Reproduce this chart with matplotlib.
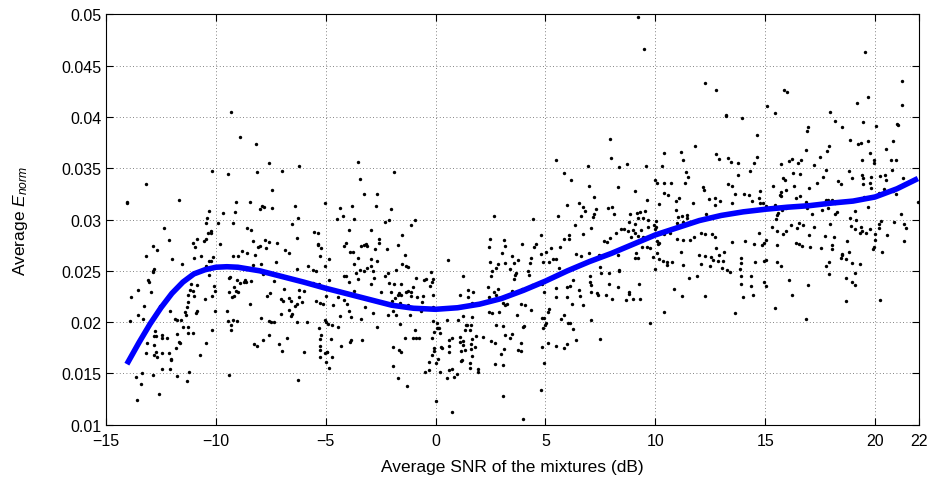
import numpy as np
import matplotlib.pyplot as plt

plt.rcParams['font.family'] = ['Liberation Sans', 'DejaVu Sans']
plt.rcParams['mathtext.fontset'] = 'custom'
plt.rcParams['mathtext.rm'] = 'Liberation Sans'
plt.rcParams['mathtext.it'] = 'Liberation Sans:italic'

# (SNR dB, average E_norm), grouped by region
upper_pts = [
    (-9.32, 0.04045), (-8.91, 0.03808), (-8.19, 0.03733),
    (9.19, 0.0497), (9.48, 0.04665), (7.92, 0.03785), (12.27, 0.04334), (12.76, 0.04266),
    (13.21, 0.04019), (13.20, 0.04006), (13.96, 0.03986), (14.64, 0.03827), (10.38, 0.03652),
    (11.16, 0.03658), (11.82, 0.03717), (12.77, 0.03639), (15.07, 0.04110), (15.44, 0.04035),
    (15.84, 0.04259), (15.99, 0.04246), (17.96, 0.04045), (18.16, 0.03960), (16.93, 0.03905),
    (16.90, 0.03866), (18.49, 0.03899), (19.18, 0.04139), (19.69, 0.04198), (19.56, 0.04630),
    (19.47, 0.03947), (20.06, 0.03912), (21.23, 0.04350), (21.24, 0.04120), (21.00, 0.03931),
    (21.03, 0.03918), (18.87, 0.03772), (19.22, 0.03733), (19.37, 0.03749), (19.66, 0.03769),
    (20.83, 0.03769), (20.48, 0.03684), (19.79, 0.03645), (16.86, 0.03675), (17.89, 0.03717),
    (17.83, 0.03668),
]

left_pts = [
    (-10.18, 0.03477), (-9.47, 0.03444), (-8.15, 0.03460), (-7.56, 0.03555), (-7.00, 0.03477),
    (-13.17, 0.03347), (-14.04, 0.03174), (-14.04, 0.03158), (-11.67, 0.03187), (-9.09, 0.03168),
    (-8.45, 0.03174), (-7.88, 0.03132), (-7.83, 0.03126), (-8.00, 0.03103), (-7.44, 0.03288),
    (-7.44, 0.03109), (-10.29, 0.03087), (-10.40, 0.03015), (-9.67, 0.03061), (-9.15, 0.03070),
    (-9.21, 0.02967), (-10.43, 0.02970), (-9.90, 0.02963), (-8.60, 0.02921), (-8.39, 0.02898),
    (-12.34, 0.02915), (-10.24, 0.02889), (-10.34, 0.02866), (-10.21, 0.02869), (-12.14, 0.02804),
    (-10.87, 0.02814), (-10.43, 0.02807), (-10.55, 0.02788), (-11.05, 0.02768), (-10.94, 0.02733),
    (-9.79, 0.02762), (-12.88, 0.02746), (-12.66, 0.02700), (-8.33, 0.02791), (-8.06, 0.02729),
    (-8.01, 0.02742), (-7.77, 0.02801), (-7.60, 0.02781), (-7.21, 0.02775), (-7.72, 0.02723),
    (-6.87, 0.02703), (-13.20, 0.02648), (-12.00, 0.02619), (-11.55, 0.02564), (-11.00, 0.02622),
    (-10.68, 0.02645), (-10.29, 0.02599), (-10.21, 0.02599), (-10.11, 0.02638), (-10.43, 0.02547),
    (-9.24, 0.02648), (-8.98, 0.02645), (-8.83, 0.02690), (-8.56, 0.02674), (-8.21, 0.02658),
    (-8.30, 0.02557), (-7.95, 0.02564), (-7.28, 0.02583), (-12.82, 0.02518), (-12.85, 0.02502),
    (-12.88, 0.02489), (-13.10, 0.02411), (-13.02, 0.02388), (-10.93, 0.02482), (-10.85, 0.02359),
    (-11.14, 0.02375), (-11.69, 0.02365), (-13.55, 0.02313), (-12.96, 0.02294), (-10.32, 0.02456),
    (-10.08, 0.02352), (-9.35, 0.02440), (-9.39, 0.02427), (-9.06, 0.02411), (-8.88, 0.02385),
    (-8.67, 0.02414), (-8.61, 0.02388), (-8.71, 0.02391), (-9.18, 0.02346), (-8.39, 0.02404),
    (-7.86, 0.02466), (-7.37, 0.02404), (-11.17, 0.02313), (-11.05, 0.02303), (-9.39, 0.02297),
    (-9.09, 0.02303), (-8.97, 0.02291), (-10.06, 0.02307), (-7.53, 0.02281), (-6.89, 0.02323),
    (-13.84, 0.02248), (-13.25, 0.02160), (-13.54, 0.02066), (-13.90, 0.02011), (-13.32, 0.02030),
    (-12.53, 0.02160), (-12.08, 0.02108), (-11.25, 0.02264), (-11.00, 0.02258), (-11.29, 0.02199),
    (-11.32, 0.02150), (-11.40, 0.02101), (-11.38, 0.02072), (-10.88, 0.02105), (-10.90, 0.02089),
    (-10.49, 0.02225), (-10.17, 0.02251), (-10.05, 0.02111), (-11.88, 0.02027), (-11.75, 0.02024),
    (-11.58, 0.02024), (-11.49, 0.01952), (-11.25, 0.01956), (-11.25, 0.01894), (-11.05, 0.01894),
    (-10.17, 0.01923), (-12.75, 0.01913), (-12.81, 0.01865), (-12.72, 0.01861), (-12.43, 0.01874),
    (-12.43, 0.01842), (-12.22, 0.01848), (-11.75, 0.01881), (-11.67, 0.01809), (-11.62, 0.01793),
    (-11.81, 0.01744), (-10.44, 0.01793), (-13.14, 0.01800), (-12.81, 0.01777), (-13.19, 0.01702),
    (-12.81, 0.01683), (-12.72, 0.01705), (-12.66, 0.01663), (-12.44, 0.01702), (-12.13, 0.01702),
    (-12.05, 0.01644), (-12.03, 0.01634), (-10.70, 0.01679), (-12.44, 0.01543), (-12.10, 0.01540),
    (-12.84, 0.01484), (-13.35, 0.01501), (-13.63, 0.01462), (-11.23, 0.01510), (-11.76, 0.01471),
    (-11.31, 0.01426), (-13.40, 0.01400), (-12.60, 0.01296), (-13.61, 0.01240),
    (-9.19, 0.02258), (-9.26, 0.02248), (-8.45, 0.02173), (-9.50, 0.02111), (-9.44, 0.02011),
    (-9.21, 0.02024), (-9.03, 0.02008), (-9.33, 0.01975), (-9.33, 0.01923), (-7.66, 0.02254),
    (-7.03, 0.02225), (-6.94, 0.02206), (-7.04, 0.02079), (-7.94, 0.02040), (-7.57, 0.02014),
    (-7.48, 0.02001), (-7.36, 0.02004), (-7.56, 0.01871), (-7.86, 0.01829), (-8.26, 0.01783),
    (-8.12, 0.01767), (-7.13, 0.01786), (-7.00, 0.01718), (-9.39, 0.01481),
]

mid_left_pts = [
    (-6.22, 0.03519), (-3.52, 0.03564), (-3.43, 0.03399), (-1.90, 0.03464), (-3.26, 0.03249),
    (-2.67, 0.03252), (-6.39, 0.03129), (-5.04, 0.03158), (-4.36, 0.03116), (-3.81, 0.03132),
    (-2.69, 0.03132), (-2.02, 0.03106), (-6.24, 0.03015), (-6.53, 0.02960), (-4.48, 0.03005),
    (-4.22, 0.03031), (-3.72, 0.03002), (-2.28, 0.02980), (-2.10, 0.02996), (-0.94, 0.02999),
    (-1.11, 0.02947), (-6.32, 0.02820), (-5.53, 0.02882), (-5.36, 0.02866), (-3.93, 0.02895),
    (-2.92, 0.02895), (-1.54, 0.02853), (-5.33, 0.02762), (-5.36, 0.02749), (-5.21, 0.02720),
    (-4.08, 0.02768), (-4.15, 0.02739), (-3.40, 0.02746), (-3.25, 0.02752), (-3.17, 0.02762),
    (-3.10, 0.02742), (-2.58, 0.02807), (-2.58, 0.02775), (-2.76, 0.02713), (-2.20, 0.02716),
    (-1.72, 0.02755), (-6.68, 0.02677), (-5.28, 0.02645), (-4.86, 0.02612), (-3.90, 0.02681),
    (-3.75, 0.02684), (-3.55, 0.02629), (-3.72, 0.02567), (-2.92, 0.02616), (-2.66, 0.02593),
    (-1.41, 0.02655), (-1.54, 0.02564), (-1.34, 0.02547), (-1.26, 0.02538), (-5.80, 0.02551),
    (-6.30, 0.02518), (-5.56, 0.02512), (-5.45, 0.02502), (-5.03, 0.02551), (-3.63, 0.02476),
    (-3.42, 0.02512), (-3.27, 0.02495), (-3.11, 0.02528), (-2.93, 0.02547), (-2.87, 0.02499),
    (-2.29, 0.02453), (-2.17, 0.02479), (-1.81, 0.02505), (-4.16, 0.02447), (-4.07, 0.02447),
    (-4.83, 0.02414), (-3.92, 0.02388), (-3.52, 0.02421), (-2.93, 0.02369), (-2.81, 0.02434),
    (-5.56, 0.02385), (-5.30, 0.02372), (-2.10, 0.02382), (-1.88, 0.02375), (-1.57, 0.02372),
    (-0.87, 0.02434), (-0.53, 0.02411), (-0.43, 0.02424), (-0.23, 0.02492), (-0.17, 0.02391),
    (-0.11, 0.02424), (-0.26, 0.02349), (-1.03, 0.02343), (-6.21, 0.02313), (-6.01, 0.02303),
    (-4.36, 0.02303), (-3.70, 0.02307), (-2.49, 0.02294), (-2.04, 0.02294), (-1.66, 0.02288),
    (-1.34, 0.02294), (-1.25, 0.02300), (-1.10, 0.02291),
    (-6.68, 0.02235), (-6.56, 0.02206), (-6.22, 0.02248), (-6.10, 0.02193), (-6.30, 0.02180),
    (-6.41, 0.02157), (-6.69, 0.02115), (-6.54, 0.02082), (-6.57, 0.02063), (-5.43, 0.02209),
    (-5.24, 0.02183), (-5.13, 0.02173), (-5.01, 0.02258), (-4.45, 0.02248), (-4.15, 0.02216),
    (-4.69, 0.02164), (-4.02, 0.02173), (-3.95, 0.02111), (-4.33, 0.02063), (-3.87, 0.02046),
    (-3.40, 0.02030), (-3.22, 0.02150), (-2.85, 0.02092), (-1.84, 0.02232), (-1.73, 0.02264),
    (-1.57, 0.02261), (-1.10, 0.02251), (-0.84, 0.02241), (-0.56, 0.02251), (-0.11, 0.02264),
    (-2.00, 0.02203), (-1.64, 0.02186), (-1.96, 0.02111), (-2.16, 0.02066), (-1.82, 0.02069),
    (-1.26, 0.02167), (-1.17, 0.02066), (-0.64, 0.02193), (-0.65, 0.02111), (-0.14, 0.02150),
    (-0.12, 0.02014), (0.06, 0.01991), (0.07, 0.01946), (0.10, 0.01939), (0.16, 0.01939),
    (0.19, 0.01897), (0.23, 0.01761), (0.30, 0.01744), (-0.06, 0.01907), (-0.15, 0.01845),
    (-0.09, 0.01751), (-0.08, 0.01715), (-0.15, 0.01679), (0.13, 0.01637), (0.00, 0.01601),
    (-0.31, 0.01611), (-0.29, 0.01533), (-0.50, 0.01510), (0.19, 0.01517), (0.04, 0.01228),
    (-0.94, 0.01923), (-1.03, 0.01848), (-0.90, 0.01842), (-0.75, 0.01842), (-1.38, 0.01848),
    (-1.64, 0.01982), (-2.66, 0.01949), (-1.96, 0.01761), (-1.66, 0.01728), (-1.58, 0.01705),
    (-1.96, 0.01575), (-1.69, 0.01455), (-1.28, 0.01374), (-3.36, 0.01829), (-3.86, 0.01822),
    (-3.89, 0.01806), (-4.30, 0.01764), (-4.75, 0.01835), (-4.89, 0.01978), (-4.72, 0.01972),
    (-4.45, 0.01952), (-5.31, 0.01946), (-5.22, 0.01878), (-5.24, 0.01835), (-6.76, 0.01845),
    (-5.03, 0.02020), (-5.01, 0.02001), (-6.32, 0.02001), (-5.86, 0.02004), (-5.25, 0.01767),
    (-5.24, 0.01731), (-5.03, 0.01696), (-4.96, 0.01705), (-4.93, 0.01712), (-5.25, 0.01660),
    (-5.01, 0.01614), (-4.72, 0.01663), (-4.86, 0.01556), (-5.97, 0.01709), (-6.24, 0.01436),
]

mid_pts = [
    (5.46, 0.03577), (6.92, 0.03519), (5.84, 0.03454), (6.17, 0.03386), (6.98, 0.03324),
    (7.19, 0.03223), (5.96, 0.03142), (6.52, 0.03158), (6.70, 0.03126), (6.78, 0.03080),
    (7.30, 0.03106), (7.23, 0.03051), (7.17, 0.03022), (6.61, 0.03031), (2.64, 0.03038),
    (4.43, 0.03009), (5.57, 0.03031), (6.36, 0.02944), (7.08, 0.02921), (4.79, 0.02846),
    (6.08, 0.02853), (6.08, 0.02811), (5.84, 0.02811), (6.69, 0.02856), (7.66, 0.02788),
    (2.49, 0.02814), (2.41, 0.02733), (3.12, 0.02798), (3.18, 0.02742), (3.91, 0.02759),
    (4.58, 0.02765), (4.49, 0.02729), (5.25, 0.02719), (5.04, 0.02687), (4.79, 0.02661),
    (5.67, 0.02736), (3.00, 0.02674), (0.56, 0.02606), (3.50, 0.02645), (3.77, 0.02603),
    (3.56, 0.02580), (3.18, 0.02580), (4.28, 0.02573), (4.34, 0.02629), (4.90, 0.02590),
    (5.14, 0.02590), (5.35, 0.02612), (5.46, 0.02619), (6.39, 0.02661), (6.63, 0.02648),
    (6.96, 0.02671), (7.43, 0.02655), (7.54, 0.02645), (2.47, 0.02583), (2.85, 0.02564),
    (2.74, 0.02525), (2.55, 0.02502), (3.38, 0.02518), (3.68, 0.02482), (4.22, 0.02499),
    (4.23, 0.02456), (5.61, 0.02528), (7.49, 0.02534), (7.51, 0.02479), (2.52, 0.02450),
    (1.27, 0.02447), (3.62, 0.02456), (3.55, 0.02417), (7.04, 0.02450), (7.04, 0.02395),
    (7.05, 0.02362), (2.38, 0.02339), (2.83, 0.02323), (1.48, 0.02317), (1.70, 0.02297),
    (2.65, 0.02297), (3.46, 0.02300), (3.93, 0.02326), (4.41, 0.02362), (4.85, 0.02369),
    (5.47, 0.02333), (4.94, 0.02294), (5.98, 0.02339), (6.13, 0.02349), (6.26, 0.02411),
    (6.51, 0.02317), (7.07, 0.02297), (7.34, 0.02281),
    (1.09, 0.02268), (1.48, 0.02241), (1.64, 0.02183), (2.42, 0.02241), (2.76, 0.02261),
    (2.68, 0.02216), (3.08, 0.02186), (3.18, 0.02167), (3.24, 0.02173), (3.87, 0.02173),
    (4.09, 0.02164), (4.32, 0.02121), (5.17, 0.02124), (5.11, 0.02102), (5.46, 0.02241),
    (5.96, 0.02241), (6.58, 0.02251), (6.19, 0.02176), (6.72, 0.02170), (7.37, 0.02268),
    (2.41, 0.02102), (2.58, 0.02085), (2.87, 0.02095), (3.71, 0.02072), (1.65, 0.02046),
    (5.85, 0.02066), (5.73, 0.02030), (6.01, 0.01995), (6.10, 0.01988), (6.26, 0.01930),
    (6.37, 0.01829), (5.84, 0.01751), (5.98, 0.01790), (7.08, 0.02020), (7.48, 0.01839),
    (4.85, 0.02040), (4.94, 0.02043), (5.03, 0.01988), (4.99, 0.01972), (4.88, 0.01939),
    (0.50, 0.02020), (1.04, 0.02020), (1.23, 0.02063), (1.38, 0.01972), (1.45, 0.01968),
    (1.35, 0.01926), (1.56, 0.01926), (1.62, 0.01972), (2.77, 0.01975), (3.09, 0.01962),
    (3.96, 0.01949), (4.02, 0.01959), (1.85, 0.01861), (1.64, 0.01839), (2.17, 0.01858),
    (2.50, 0.01819), (2.70, 0.01800), (3.18, 0.01871), (3.38, 0.01842), (3.46, 0.01884),
    (3.90, 0.01800), (0.74, 0.01842), (0.63, 0.01826), (1.10, 0.01852), (1.10, 0.01803),
    (1.23, 0.01816), (1.61, 0.01786), (0.59, 0.01770), (0.59, 0.01705), (1.14, 0.01715),
    (1.33, 0.01731), (1.62, 0.01735), (1.80, 0.01761), (1.27, 0.01780), (3.11, 0.01735),
    (3.75, 0.01728), (3.87, 0.01722), (4.82, 0.01761), (5.13, 0.01793), (5.46, 0.01764),
    (4.94, 0.01601), (2.97, 0.01686), (1.64, 0.01673), (1.15, 0.01621), (1.20, 0.01631),
    (1.55, 0.01601), (1.56, 0.01553), (1.95, 0.01543), (1.91, 0.01517), (2.71, 0.01595),
    (3.06, 0.01579), (0.60, 0.01530), (0.76, 0.01543), (0.54, 0.01455), (0.97, 0.01491),
    (0.86, 0.01468), (4.79, 0.01342), (3.06, 0.01283), (0.74, 0.01127), (3.99, 0.01052),
]

mid_right_pts = [
    (7.99, 0.03597), (8.34, 0.03509), (8.71, 0.03538), (9.57, 0.03522), (10.31, 0.03519),
    (11.24, 0.03577), (11.41, 0.03460), (11.47, 0.03418), (12.92, 0.03590), (13.32, 0.03603),
    (13.46, 0.03558), (13.76, 0.03548), (14.29, 0.03477), (14.50, 0.03555), (14.62, 0.03613),
    (9.98, 0.03389), (10.09, 0.03353), (10.39, 0.03353), (10.71, 0.03353), (11.33, 0.03360),
    (12.15, 0.03321), (12.20, 0.03288), (13.29, 0.03343), (13.50, 0.03330), (13.77, 0.03438),
    (8.30, 0.03314), (9.06, 0.03278), (10.41, 0.03256), (10.56, 0.03236), (9.60, 0.03194),
    (11.09, 0.03207), (10.94, 0.03178), (11.70, 0.03158), (10.15, 0.03155), (12.45, 0.03200),
    (12.70, 0.03213), (12.73, 0.03142), (12.96, 0.03184), (13.49, 0.03162), (13.64, 0.03249),
    (14.02, 0.03249), (14.25, 0.03236), (14.40, 0.03184), (14.78, 0.03282), (14.73, 0.03210),
    (14.91, 0.03165), (14.75, 0.03158), (7.83, 0.03113), (8.02, 0.03122), (8.83, 0.03057),
    (9.18, 0.03067), (9.28, 0.03074), (9.53, 0.03087), (8.10, 0.03054), (9.22, 0.03015),
    (9.42, 0.03012), (8.78, 0.02980), (9.66, 0.02993), (10.04, 0.02989), (9.93, 0.02944),
    (8.43, 0.02908), (8.58, 0.02911), (8.75, 0.02885), (9.06, 0.02957), (8.98, 0.02902),
    (9.34, 0.02902), (9.07, 0.02872), (9.66, 0.02931), (10.01, 0.02924), (9.97, 0.02905),
    (8.22, 0.02866), (7.92, 0.02820), (8.90, 0.02827), (9.21, 0.02840), (9.43, 0.02830),
    (9.69, 0.02833), (10.39, 0.02863), (10.69, 0.02869), (10.92, 0.03093), (11.03, 0.03022),
    (11.21, 0.03031), (11.45, 0.03041), (11.44, 0.03018), (11.26, 0.02973), (10.98, 0.02963),
    (12.29, 0.03051), (12.09, 0.02866), (12.26, 0.02859), (12.59, 0.02859), (12.71, 0.02833),
    (10.97, 0.02811), (11.24, 0.02801), (11.57, 0.02798), (11.74, 0.02827), (13.50, 0.02778),
    (14.06, 0.02788), (14.49, 0.02765), (14.73, 0.02866), (14.84, 0.02755), (14.93, 0.02772),
    (7.80, 0.02781), (10.07, 0.02794), (10.18, 0.02775), (10.10, 0.02762), (9.39, 0.02736),
    (9.62, 0.02733), (9.77, 0.02723), (9.12, 0.02674), (10.07, 0.02674), (11.18, 0.02684),
    (12.00, 0.02658), (12.24, 0.02642), (12.53, 0.02632), (12.62, 0.02609), (12.85, 0.02599),
    (13.08, 0.02593), (12.91, 0.02652), (13.11, 0.02687), (12.76, 0.02723), (13.91, 0.02629),
    (13.91, 0.02577), (13.87, 0.02518), (14.52, 0.02583), (14.93, 0.02596), (8.31, 0.02655),
    (9.06, 0.02625), (9.19, 0.02622), (9.89, 0.02632), (10.15, 0.02612), (10.36, 0.02599),
    (10.54, 0.02586), (10.51, 0.02557), (10.74, 0.02583), (11.24, 0.02557), (12.09, 0.02564),
    (12.48, 0.02544), (13.03, 0.02531), (13.24, 0.02505), (13.41, 0.02486), (8.36, 0.02508),
    (8.33, 0.02499), (7.87, 0.02479), (9.98, 0.02518), (11.51, 0.02430), (11.89, 0.02450),
    (13.88, 0.02447), (14.34, 0.02450), (7.87, 0.02369), (8.28, 0.02346), (9.25, 0.02369),
    (8.78, 0.02291), (10.86, 0.02326), (13.90, 0.02372), (14.34, 0.02349), (14.94, 0.02388),
    (7.77, 0.02268), (8.01, 0.02225), (8.66, 0.02219), (8.78, 0.02277), (8.98, 0.02225),
    (9.30, 0.02225), (9.74, 0.01988), (10.41, 0.02099), (11.23, 0.02258), (12.26, 0.02258),
    (13.64, 0.02089), (13.97, 0.02248), (14.44, 0.02264),
]

right_pts = [
    (15.70, 0.03545), (16.09, 0.03574), (16.20, 0.03590), (16.49, 0.03555), (16.61, 0.03584),
    (17.49, 0.03607), (17.20, 0.03532), (17.75, 0.03480), (18.83, 0.03473), (18.95, 0.03408),
    (19.40, 0.03584), (19.96, 0.03584), (19.93, 0.03548), (20.74, 0.03581), (20.97, 0.03581),
    (16.25, 0.03451), (16.57, 0.03444), (19.40, 0.03434), (19.45, 0.03405), (19.80, 0.03418),
    (20.21, 0.03428), (20.43, 0.03434), (20.48, 0.03382), (20.77, 0.03486), (15.82, 0.03402),
    (15.90, 0.03386), (15.34, 0.03327), (17.63, 0.03418), (17.37, 0.03360), (18.32, 0.03379),
    (18.46, 0.03350), (19.43, 0.03350), (21.27, 0.03402), (16.32, 0.03324), (17.00, 0.03311),
    (15.96, 0.03285), (15.70, 0.03269), (15.67, 0.03243), (15.73, 0.03226), (16.57, 0.03226),
    (16.40, 0.03210), (19.77, 0.03353), (19.80, 0.03308), (20.16, 0.03256), (20.40, 0.03295),
    (20.83, 0.03282), (20.95, 0.03249), (16.84, 0.03171), (17.78, 0.03187), (17.84, 0.03187),
    (18.02, 0.03194), (18.17, 0.03165), (17.73, 0.03155), (19.96, 0.03220), (19.48, 0.03217),
    (21.94, 0.03171), (15.05, 0.03136), (15.44, 0.03142), (15.76, 0.03093), (15.93, 0.03113),
    (15.58, 0.03061), (15.55, 0.03044), (16.88, 0.03113), (17.14, 0.03057), (17.57, 0.03090),
    (17.85, 0.03113), (18.19, 0.03054), (18.29, 0.03070), (19.08, 0.03087), (19.66, 0.03119),
    (21.19, 0.03057), (18.87, 0.03015), (19.13, 0.02993), (15.47, 0.03002), (15.32, 0.02924),
    (15.55, 0.02885), (15.82, 0.02859), (15.96, 0.02892), (16.19, 0.02947), (16.53, 0.02967),
    (16.70, 0.02950), (16.43, 0.02915), (17.22, 0.02931), (17.93, 0.02960), (18.90, 0.02937),
    (19.10, 0.02908), (19.34, 0.02928), (19.42, 0.02885), (19.30, 0.02869), (19.58, 0.02872),
    (19.78, 0.02908), (20.18, 0.02957), (20.25, 0.02989), (20.18, 0.02918), (20.01, 0.02856),
    (20.87, 0.02973), (21.30, 0.02954), (21.39, 0.02918), (16.99, 0.02846), (17.73, 0.02840),
    (18.13, 0.02833), (20.54, 0.02849), (15.05, 0.02804), (15.52, 0.02755), (16.38, 0.02768),
    (16.53, 0.02765), (16.69, 0.02742), (17.05, 0.02729), (17.55, 0.02720), (18.02, 0.02749),
    (18.02, 0.02710), (18.72, 0.02788), (19.90, 0.02716), (19.96, 0.02733), (20.01, 0.02804),
    (20.30, 0.02681), (21.30, 0.02788), (15.05, 0.02609), (15.52, 0.02590), (15.70, 0.02547),
    (18.48, 0.02668), (18.51, 0.02652), (18.80, 0.02687), (18.46, 0.02626), (18.70, 0.02612),
    (18.96, 0.02580), (19.30, 0.02564), (17.90, 0.02590), (17.75, 0.02544), (17.89, 0.02469),
    (19.10, 0.02482), (16.08, 0.02411), (16.96, 0.02365), (18.70, 0.02427), (18.93, 0.02391),
    (19.07, 0.02365), (15.03, 0.02349),
    (15.44, 0.02137), (16.23, 0.02268), (16.85, 0.02030), (18.70, 0.02209), (20.21, 0.02216),
]

# blue fitted trend
fit_snr = [-14.05, -13.5, -13.0, -12.5, -12.0, -11.5, -11.0, -10.5, -10.0, -9.5, -9.0,
           -8.0, -7.0, -6.0, -5.0, -4.0, -3.0, -2.0, -1.0, 0.0, 1.0, 2.0, 3.0, 4.0, 5.0,
           6.0, 7.0, 8.0, 9.0, 10.0, 11.0, 12.0, 13.0, 14.0, 15.0, 16.0, 17.0, 18.0, 19.0,
           20.0, 21.0, 21.95]
fit_enorm = [0.0159, 0.0180, 0.0198, 0.0214, 0.0228, 0.0239, 0.0247, 0.0251, 0.02535, 0.0254,
             0.02535, 0.0250, 0.02445, 0.0239, 0.0233, 0.02275, 0.0222, 0.02165, 0.02135,
             0.02125, 0.0214, 0.02175, 0.0223, 0.0231, 0.0240, 0.0250, 0.0259, 0.0267, 0.0276,
             0.0285, 0.0292, 0.0299, 0.0304, 0.03075, 0.0310, 0.0312, 0.03135, 0.0316, 0.0318,
             0.0322, 0.0330, 0.0340]

x_ticks = [-15, -10, -5, 0, 5, 10, 15, 20, 22]
y_ticks = [0.01, 0.015, 0.02, 0.025, 0.03, 0.035, 0.04, 0.045, 0.05]
y_tick_labels = ['0.01', '0.015', '0.02', '0.025', '0.03', '0.035', '0.04', '0.045', '0.05']

pts = np.array(upper_pts + left_pts + mid_left_pts + mid_pts + mid_right_pts + right_pts)

fig = plt.figure(figsize=(9.33, 4.81), dpi=100)
ax = fig.add_axes([0.1136, 0.115, 0.8714, 0.853])

ax.scatter(pts[:, 0], pts[:, 1], s=6, c='black', linewidths=0, zorder=2)
ax.plot(fit_snr, fit_enorm, color=(0, 0, 1), linewidth=4, solid_capstyle='butt',
        solid_joinstyle='round', zorder=3)

ax.set_xlim(-15, 22)
ax.set_ylim(0.01, 0.05)
ax.set_xticks(x_ticks)
ax.set_yticks(y_ticks)
ax.set_yticklabels(y_tick_labels)
ax.grid(True, color='0.35', linestyle=(0, (1, 3)), linewidth=0.6)
ax.set_axisbelow(True)
ax.tick_params(direction='in', top=True, right=True, length=5, labelsize=11.5, width=0.8)
ax.tick_params(axis='x', pad=6)
for s in ax.spines.values():
    s.set_linewidth(0.8)

ax.set_xlabel('Average SNR of the mixtures (dB)', fontsize=12.5, labelpad=8)
ax.set_ylabel('Average $E_{norm}$', fontsize=12.5, labelpad=22)

fig.savefig('out.png', dpi=100)
